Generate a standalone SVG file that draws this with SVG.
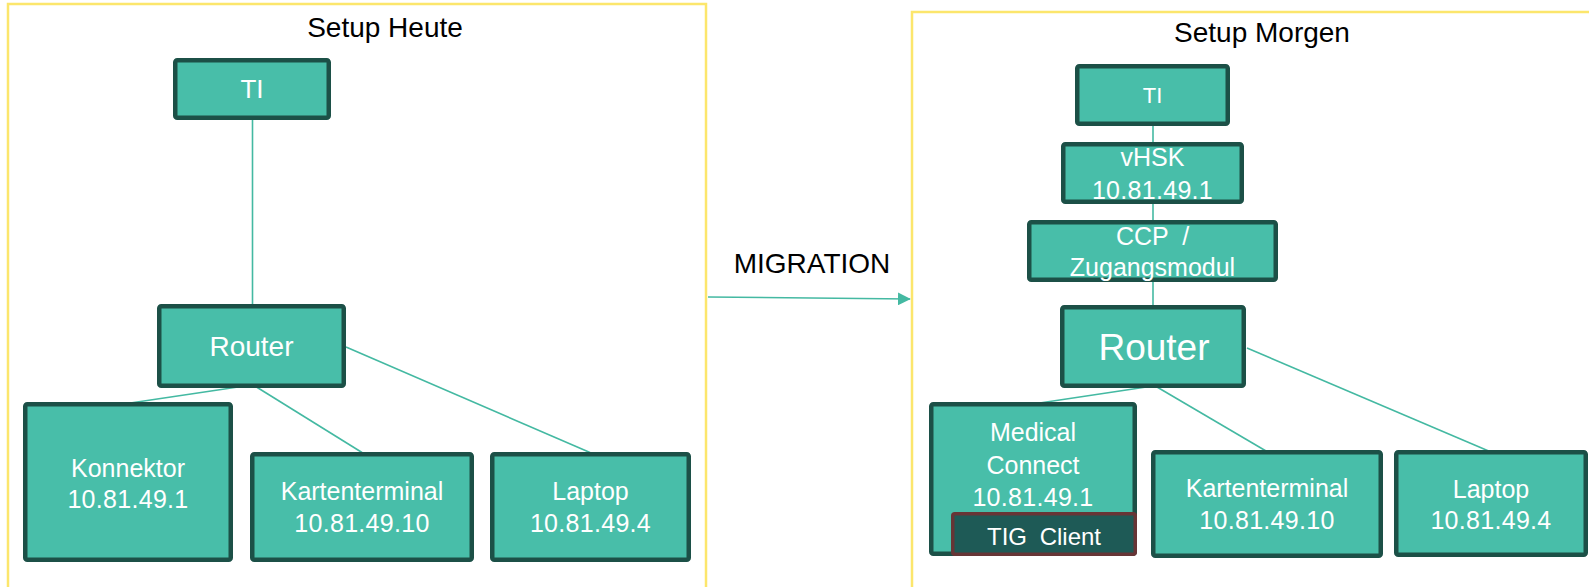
<svg xmlns="http://www.w3.org/2000/svg" width="1589" height="587" viewBox="0 0 1589 587">
<style>
.frame{fill:none;stroke:#fce66c;stroke-width:2.5}
.box{fill:#48bea9;stroke:#1c5047;stroke-width:4.5}
.tig{fill:#1e5a56;stroke:#673536;stroke-width:3.5}
.t{font-family:"Liberation Sans",Arial,sans-serif;fill:#ffffff;text-anchor:middle;font-size:25px}
.ip{letter-spacing:0.3px}
.title{font-family:"Liberation Sans",Arial,sans-serif;fill:#000000;text-anchor:middle;font-size:28px}
.c{stroke:#44b9a2;stroke-width:1.6;fill:none}
</style>
<defs>
<marker id="ah" markerWidth="8" markerHeight="8" refX="7.5" refY="4" orient="auto" markerUnits="strokeWidth">
<path d="M0,0 L8,4 L0,8 z" fill="#44b9a2"/>
</marker>
</defs>
<g id="frames">
<rect class="frame" x="8" y="4" width="698" height="620"/>
<rect class="frame" x="912" y="12" width="720" height="620"/>
<text class="title" x="385" y="37">Setup Heute</text>
<text class="title" x="1262" y="42">Setup Morgen</text>
<text class="title" x="812" y="273">MIGRATION</text>
</g>
<g id="connectors">
<line class="c" x1="252.5" y1="118" x2="252.5" y2="306"/>
<line class="c" x1="238" y1="387" x2="127" y2="403.5"/>
<line class="c" x1="256.5" y1="387" x2="362" y2="452.5"/>
<line class="c" x1="346" y1="347" x2="590" y2="452.5"/>
<line class="c" x1="1153" y1="124" x2="1153" y2="307"/>
<line class="c" x1="1153" y1="386" x2="1033" y2="404"/>
<line class="c" x1="1157" y1="387" x2="1266" y2="451"/>
<line class="c" x1="1247" y1="348" x2="1491" y2="452"/>
<line class="c" x1="708" y1="297" x2="910" y2="299" stroke-width="2" marker-end="url(#ah)"/>
</g>
<g id="ti-heute">
<rect class="box" x="175.25" y="60.25" width="153.5" height="57.5" rx="2"/>
<text class="t" x="252" y="98" style="font-size:26px">TI</text>
</g>
<g id="router-heute">
<rect class="box" x="159.25" y="306.25" width="184.5" height="79.5" rx="2"/>
<text class="t" x="251.5" y="356" style="font-size:28px">Router</text>
</g>
<g id="konnektor">
<rect class="box" x="25.25" y="404.25" width="205.5" height="155.5" rx="2"/>
<text class="t" x="128" y="477">Konnektor</text>
<text class="t ip" x="128" y="508">10.81.49.1</text>
</g>
<g id="kartenterminal-heute">
<rect class="box" x="252.25" y="454.25" width="219.5" height="105.5" rx="2"/>
<text class="t" x="362" y="500">Kartenterminal</text>
<text class="t ip" x="362" y="532">10.81.49.10</text>
</g>
<g id="laptop-heute">
<rect class="box" x="492.25" y="454.25" width="196.5" height="105.5" rx="2"/>
<text class="t" x="590.5" y="500">Laptop</text>
<text class="t ip" x="590.5" y="532">10.81.49.4</text>
</g>
<g id="ti-morgen">
<rect class="box" x="1077.25" y="66.25" width="150.5" height="57.5" rx="2"/>
<text class="t" x="1152.5" y="103" style="font-size:22px">TI</text>
</g>
<g id="vhsk">
<rect class="box" x="1063.25" y="144.25" width="178.5" height="57.5" rx="2"/>
<text class="t" x="1152.5" y="166">vHSK</text>
<text class="t ip" x="1152.5" y="199">10.81.49.1</text>
</g>
<g id="ccp">
<rect class="box" x="1029.25" y="222.25" width="246.5" height="57.5" rx="2"/>
<text class="t" x="1152.5" y="245" xml:space="preserve">CCP  /</text>
<text class="t" x="1152.5" y="276">Zugangsmodul</text>
</g>
<g id="router-morgen">
<rect class="box" x="1062.25" y="307.25" width="181.5" height="78.5" rx="2"/>
<text class="t" x="1154" y="360" style="font-size:37px">Router</text>
</g>
<g id="medical-connect">
<rect class="box" x="931.25" y="404.25" width="203.5" height="149.5" rx="2"/>
<text class="t" x="1033" y="441">Medical</text>
<text class="t" x="1033" y="474">Connect</text>
<text class="t ip" x="1033" y="506">10.81.49.1</text>
</g>
<g id="tig-client">
<rect class="tig" x="952.75" y="513.75" width="182.5" height="40.5" rx="2"/>
<text class="t" x="1044" y="545" style="font-size:24px;word-spacing:6px">TIG Client</text>
</g>
<g id="kartenterminal-morgen">
<rect class="box" x="1153.25" y="452.25" width="227.5" height="103.5" rx="2"/>
<text class="t" x="1267" y="497">Kartenterminal</text>
<text class="t ip" x="1267" y="529">10.81.49.10</text>
</g>
<g id="laptop-morgen">
<rect class="box" x="1396.25" y="452.25" width="189.5" height="102.5" rx="2"/>
<text class="t" x="1491" y="498">Laptop</text>
<text class="t ip" x="1491" y="529">10.81.49.4</text>
</g>
</svg>
